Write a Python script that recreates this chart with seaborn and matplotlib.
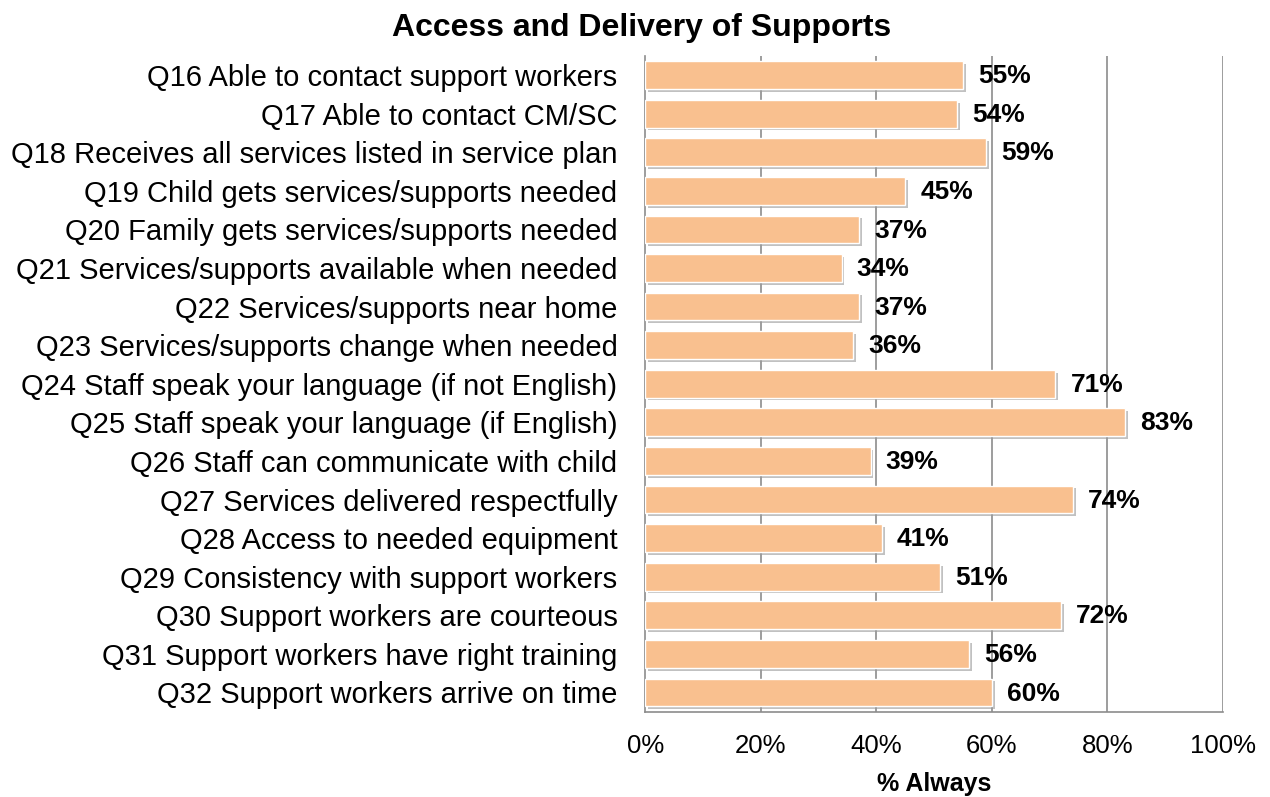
import matplotlib
matplotlib.use("Agg")
import matplotlib.pyplot as plt
import matplotlib.patheffects as pe
import seaborn as sns
import pandas as pd
import numpy as np

questions = [
    "Q16 Able to contact support workers",
    "Q17 Able to contact CM/SC",
    "Q18 Receives all services listed in service plan",
    "Q19 Child gets services/supports needed",
    "Q20 Family gets services/supports needed",
    "Q21 Services/supports available when needed",
    "Q22 Services/supports near home",
    "Q23 Services/supports change when needed",
    "Q24 Staff speak your language (if not English)",
    "Q25 Staff speak your language (if English)",
    "Q26 Staff can communicate with child",
    "Q27 Services delivered respectfully",
    "Q28 Access to needed equipment",
    "Q29 Consistency with support workers",
    "Q30 Support workers are courteous",
    "Q31 Support workers have right training",
    "Q32 Support workers arrive on time",
]
pct_always = [55, 54, 59, 45, 37, 34, 37, 36, 71, 83, 39, 74, 41, 51, 72, 56, 60]
x_ticks = [0, 20, 40, 60, 80, 100]

df = pd.DataFrame({"question": questions, "pct": pct_always})

sns.set_theme(style="white")
plt.rcParams["font.family"] = ["Liberation Sans", "DejaVu Sans"]

fig = plt.figure(figsize=(12.7, 7.97), dpi=100)
ax = fig.add_axes([0.508, 0.107, 0.455, 0.823])

bar_color = "#F9C08F"
sns.barplot(data=df, x="pct", y="question", color=bar_color, saturation=1,
            width=0.72, ax=ax, zorder=3, edgecolor="white", linewidth=1.0)

for patch in ax.patches:
    patch.set_path_effects([
        pe.SimplePatchShadow(offset=(2, -2), shadow_rgbFace="#999999", alpha=0.6),
        pe.Normal(),
    ])

for i, v in enumerate(pct_always):
    ax.text(v + 2.6, i + 0.03, f"{v}%", va="center", ha="left",
            fontsize=19, fontweight="bold", color="black", zorder=5)

ax.set_xlim(0, 100)
ax.set_ylim(len(questions) - 0.5, -0.5)
ax.set_xticks(x_ticks)
ax.set_xticklabels([f"{t}%" for t in x_ticks], fontsize=18.5, color="black")
ax.set_yticks(np.arange(len(questions)))
ax.set_yticklabels(questions, fontsize=21, color="black")

for t in x_ticks[1:]:
    ax.axvline(t, color="#8c8c8c", linewidth=1.2, zorder=1)

for side in ["top", "right"]:
    ax.spines[side].set_visible(False)
for side in ["left", "bottom"]:
    ax.spines[side].set_color("#8c8c8c")
    ax.spines[side].set_linewidth(1.2)

# category boundary ticks on the y axis, value ticks on the x axis
ax.set_yticks(np.arange(len(questions) + 1) - 0.5, minor=True)
ax.tick_params(axis="y", which="major", length=0, pad=20)
ax.tick_params(axis="y", which="minor", length=6, color="#8c8c8c", width=1.2, direction="out")
ax.tick_params(axis="x", which="major", length=7, color="#8c8c8c", width=1.2,
               direction="out", pad=9)

ax.set_xlabel("% Always", fontsize=18, fontweight="bold", labelpad=10, color="black")
ax.set_ylabel("")
fig.suptitle("Access and Delivery of Supports", fontsize=23, fontweight="bold",
             x=0.505, y=0.984, va="top", color="black")

fig.savefig("out.png", dpi=100)
